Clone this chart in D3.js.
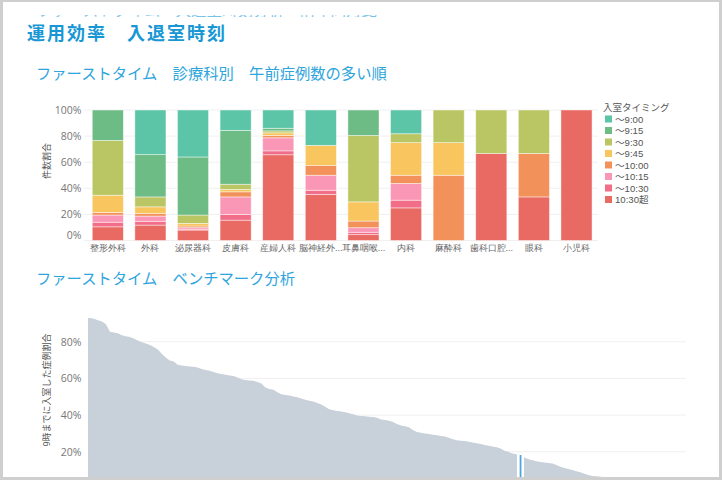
<!DOCTYPE html>
<html><head><meta charset="utf-8">
<script src="https://cdn.jsdelivr.net/npm/d3@7"></script>
<style>
html,body{margin:0;padding:0;background:#fff;}
svg{display:block;font-family:"Noto Sans","Noto Sans CJK JP",sans-serif;}
</style></head><body>
<svg id="c" width="722" height="480"></svg>
<script>
// ---------- DATA ----------
const categories = ["整形外科","外科","泌尿器科","皮膚科","産婦人科","脳神経外...","耳鼻咽喉...","内科","麻酔科","歯科口腔...","眼科","小児科"];
const seriesKeys = ["～9:00","～9:15","～9:30","～9:45","～10:00","～10:15","～10:30","10:30超"];
const s0900 = [0, 34.2, 36, 15.6, 14, 27.1, 0, 18.2, 0, 0, 0, 0];
const s0915 = [23.3, 32.4, 44.5, 41.3, 2, 0, 19.5, 0, 0, 0, 0, 0];
const s0930 = [42, 7.6, 6.4, 4, 1.5, 0, 50.9, 6.8, 25, 33.3, 33.3, 0];
const s0945 = [13.2, 5, 2, 1.8, 2, 15.3, 14.7, 25, 25, 0, 0, 0];
const s1000 = [2, 2.1, 1.3, 3.9, 1.8, 7.6, 5.1, 6.3, 50, 0, 33.3, 0];
const s1015 = [5.5, 4, 1.1, 13.4, 10, 11.5, 3.5, 12.8, 0, 0, 0, 0];
const s1030 = [3.5, 2.9, 0.7, 4.4, 3, 3.2, 1.8, 5.9, 0, 0, 0, 0];
const s1030over = [10.5, 11.8, 8, 15.6, 65.7, 35.3, 4.5, 25, 0, 66.7, 33.4, 100];
const barTicks = [0, 20, 40, 60, 80, 100];
const seriesColors = ["#5cc5a7","#6dbb85","#bac663","#f8c55e","#f2915a","#fb97b6","#f26e88","#e96a62"];

// benchmark: share of cases entering by 9:00, per hospital (sorted)
const benchValues = [93.0,92.5,91.8,91.0,89.5,85.5,85.0,84.6,83.6,83.0,82.6,81.8,80.7,79.8,79.0,78.2,77.2,75.8,73.5,71.4,
69.8,69.2,67.5,67.0,66.8,66.5,66.3,66.0,65.2,64.6,64.2,63.5,62.8,62.4,62.0,61.6,61.3,60.5,59.5,59.2,
58.9,58.7,58.0,57.2,55.0,54.2,53.8,52.5,51.3,51.0,50.7,50.2,49.7,49.0,48.3,47.8,47.4,46.6,45.8,44.5,
43.2,42.6,42.2,41.9,41.5,41.0,40.4,39.8,39.5,39.3,39.1,38.9,38.6,37.6,37.3,36.9,36.2,35.1,34.3,33.9,
33.3,31.8,30.8,30.4,30.0,29.7,29.3,29.0,28.6,28.3,27.6,26.8,26.3,26.0,25.8,25.5,25.0,24.6,24.2,23.7,
23.3,22.9,22.5,21.8,20.6,19.8,19.0,18.6,18.2,16.8,15.9,15.3,14.8,14.4,14.1,13.9,13.6,12.8,11.8,11.1,
10.6,10.0,9.4,8.8,8.0,7.3,6.8,6.6,6.4,6.2,6.0,5.8,5.6,5.4,5.2,5.0,4.8,4.6,4.4,4.2,
4.0,3.8,3.5,3.2,3.0,2.7,2.4,2.0,1.6,1.2];
const highlightIndex = 108;
const benchTicks = [0, 20, 40, 60, 80];

// ---------- DRAW ----------
const svg = d3.select("#c");
svg.append("rect").attr("x",0).attr("y",0).attr("width",722).attr("height",480).attr("fill","#fff");

// fragment of a line cut off above: draw it, then mask all but a thin strip
svg.append("text").attr("x",37).attr("y",16.4)
  .attr("font-size",15.5).attr("fill","#2aa3dc").attr("opacity",0.8).text("ファーストタイム　入退室時刻分析　前年同月比");
svg.append("rect").attr("x",0).attr("y",0).attr("width",722).attr("height",15.3).attr("fill","#fff");
svg.append("rect").attr("x",0).attr("y",16.8).attr("width",722).attr("height",5).attr("fill","#fff");

svg.append("text").attr("x",27).attr("y",40).attr("font-size",18).attr("font-weight","bold")
  .attr("letter-spacing",2).attr("fill","#1897d4").text("運用効率　入退室時刻");
svg.append("text").attr("x",36).attr("y",78.5).attr("font-size",15.3).attr("fill","#2ea5dc")
  .text("ファーストタイム　診療科別　午前症例数の多い順");
svg.append("text").attr("x",36).attr("y",283.5).attr("font-size",15.3).attr("fill","#2ea5dc")
  .text("ファーストタイム　ベンチマーク分析");

// ---- stacked bar chart ----
const rows = categories.map((c,i)=>{
  const o = {cat:c};
  [s0900,s0915,s0930,s0945,s1000,s1015,s1030,s1030over].forEach((arr,k)=>{o[seriesKeys[k]] = arr[i];});
  return o;
});
const stack = d3.stack().keys(seriesKeys.slice().reverse())(rows);
const xb = d3.scaleBand().domain(categories).range([86.5, 597.8]).paddingInner(0.27).paddingOuter(0.135);
const yb = d3.scaleLinear().domain([0,100]).range([240.5,110]);
const color = d3.scaleOrdinal().domain(seriesKeys).range(seriesColors);

// gridlines
svg.append("g").selectAll("line").data(barTicks).join("line")
  .attr("x1",84).attr("x2",598).attr("y1",d=>yb(d)).attr("y2",d=>yb(d))
  .attr("stroke","#f0f0f0").attr("stroke-width",1);

svg.append("g").selectAll("g").data(stack).join("g")
  .attr("fill",d=>color(d.key))
  .selectAll("rect").data(d=>d.filter(p=>p[1]-p[0]>0)).join("rect")
  .attr("x",d=>xb(d.data.cat)).attr("width",xb.bandwidth())
  .attr("y",d=>yb(d[1])).attr("height",d=>yb(d[0])-yb(d[1]))
  .attr("stroke","rgba(255,255,255,0.55)").attr("stroke-width",0.8);

// y axis (bar)
const yAxisB = svg.append("g").attr("transform","translate(84,0)")
  .call(d3.axisLeft(yb).tickValues(barTicks).tickFormat(d=>d+"%").tickSize(0).tickPadding(2.5));
yAxisB.select(".domain").remove();
yAxisB.selectAll("text").attr("font-size",10.5).attr("fill","#777").attr("font-family","'Open Sans','Noto Sans',sans-serif")
  .attr("dy",d=>d===0?"-0.15em":"0.32em");
svg.append("text").attr("transform","translate(50,161) rotate(-90)").attr("text-anchor","middle")
  .attr("font-size",9).attr("fill","#555").text("件数割合");

// x axis labels
const xAxisB = svg.append("g").attr("transform","translate(0,244.5)")
  .call(d3.axisBottom(xb).tickSize(0).tickPadding(0));
xAxisB.select(".domain").remove();
xAxisB.selectAll("text").attr("font-size",9).attr("fill","#666").attr("dy","0.75em");

// legend
const lg = svg.append("g").attr("transform","translate(603,0)")
  .attr("font-family","'Liberation Sans','Noto Sans CJK JP',sans-serif");
lg.append("text").attr("x",0).attr("y",111).attr("font-size",9.5).attr("fill","#555").text("入室タイミング");
const li = lg.selectAll("g.it").data(seriesKeys).join("g").attr("class","it")
  .attr("transform",(d,i)=>`translate(0,${119 + i*11.5})`);
li.append("rect").attr("x",2).attr("y",-3.5).attr("width",7).attr("height",7).attr("fill",d=>color(d));
li.append("text").attr("x",12).attr("y",3.6).attr("font-size",9.6).attr("fill","#555").text(d=>d);

// ---- benchmark area chart ----
const xa = d3.scaleBand().domain(d3.range(benchValues.length)).range([88, 686]);
const ya = d3.scaleLinear().domain([0,100]).range([488.4, 305.1]);

svg.append("g").selectAll("line").data(benchTicks).join("line")
  .attr("x1",88).attr("x2",686).attr("y1",d=>ya(d)).attr("y2",d=>ya(d))
  .attr("stroke","#f0f0f0").attr("stroke-width",1);

const pts = benchValues.map((v,i)=>({x:xa(i)+xa.bandwidth()/2, v}));
pts.unshift({x:88, v:benchValues[0]});
pts.push({x:686, v:benchValues[benchValues.length-1]});
const area = d3.area().x(d=>d.x).y0(ya(0)).y1(d=>ya(d.v)).curve(d3.curveLinear);
svg.append("path").datum(pts).attr("d",area).attr("fill","#c8d0da");

// highlighted hospital
const hx = xa(highlightIndex), hw = xa.bandwidth();
const hTop = Math.min(ya(benchValues[highlightIndex-1]), ya(benchValues[highlightIndex]));
svg.append("rect").attr("x",hx-1.6).attr("y",hTop-1).attr("width",hw+3).attr("height",ya(0)-hTop+1).attr("fill","#fff");
svg.append("rect").attr("x",hx+hw/2-0.9).attr("y",ya(benchValues[highlightIndex])).attr("width",1.8)
  .attr("height",ya(0)-ya(benchValues[highlightIndex])).attr("fill","#4ea6e0");

const yAxisA = svg.append("g").attr("transform","translate(84,0)")
  .call(d3.axisLeft(ya).tickValues(benchTicks.filter(d=>d>0)).tickFormat(d=>d+"%").tickSize(0).tickPadding(2.5));
yAxisA.select(".domain").remove();
yAxisA.selectAll("text").attr("font-size",10.5).attr("fill","#777").attr("font-family","'Open Sans','Noto Sans',sans-serif");
svg.append("text").attr("transform","translate(50,390) rotate(-90)").attr("text-anchor","middle")
  .attr("font-size",9).attr("fill","#555").text("9時までに入室した症例割合");

// ---- frame ----
const fr = svg.append("g").attr("fill","#cfcfcf");
fr.append("rect").attr("x",0).attr("y",0).attr("width",722).attr("height",2);
fr.append("rect").attr("x",0).attr("y",0).attr("width",3).attr("height",480);
fr.append("rect").attr("x",719).attr("y",0).attr("width",3).attr("height",480);
fr.append("rect").attr("x",0).attr("y",477).attr("width",722).attr("height",3);
</script>
</body></html>
